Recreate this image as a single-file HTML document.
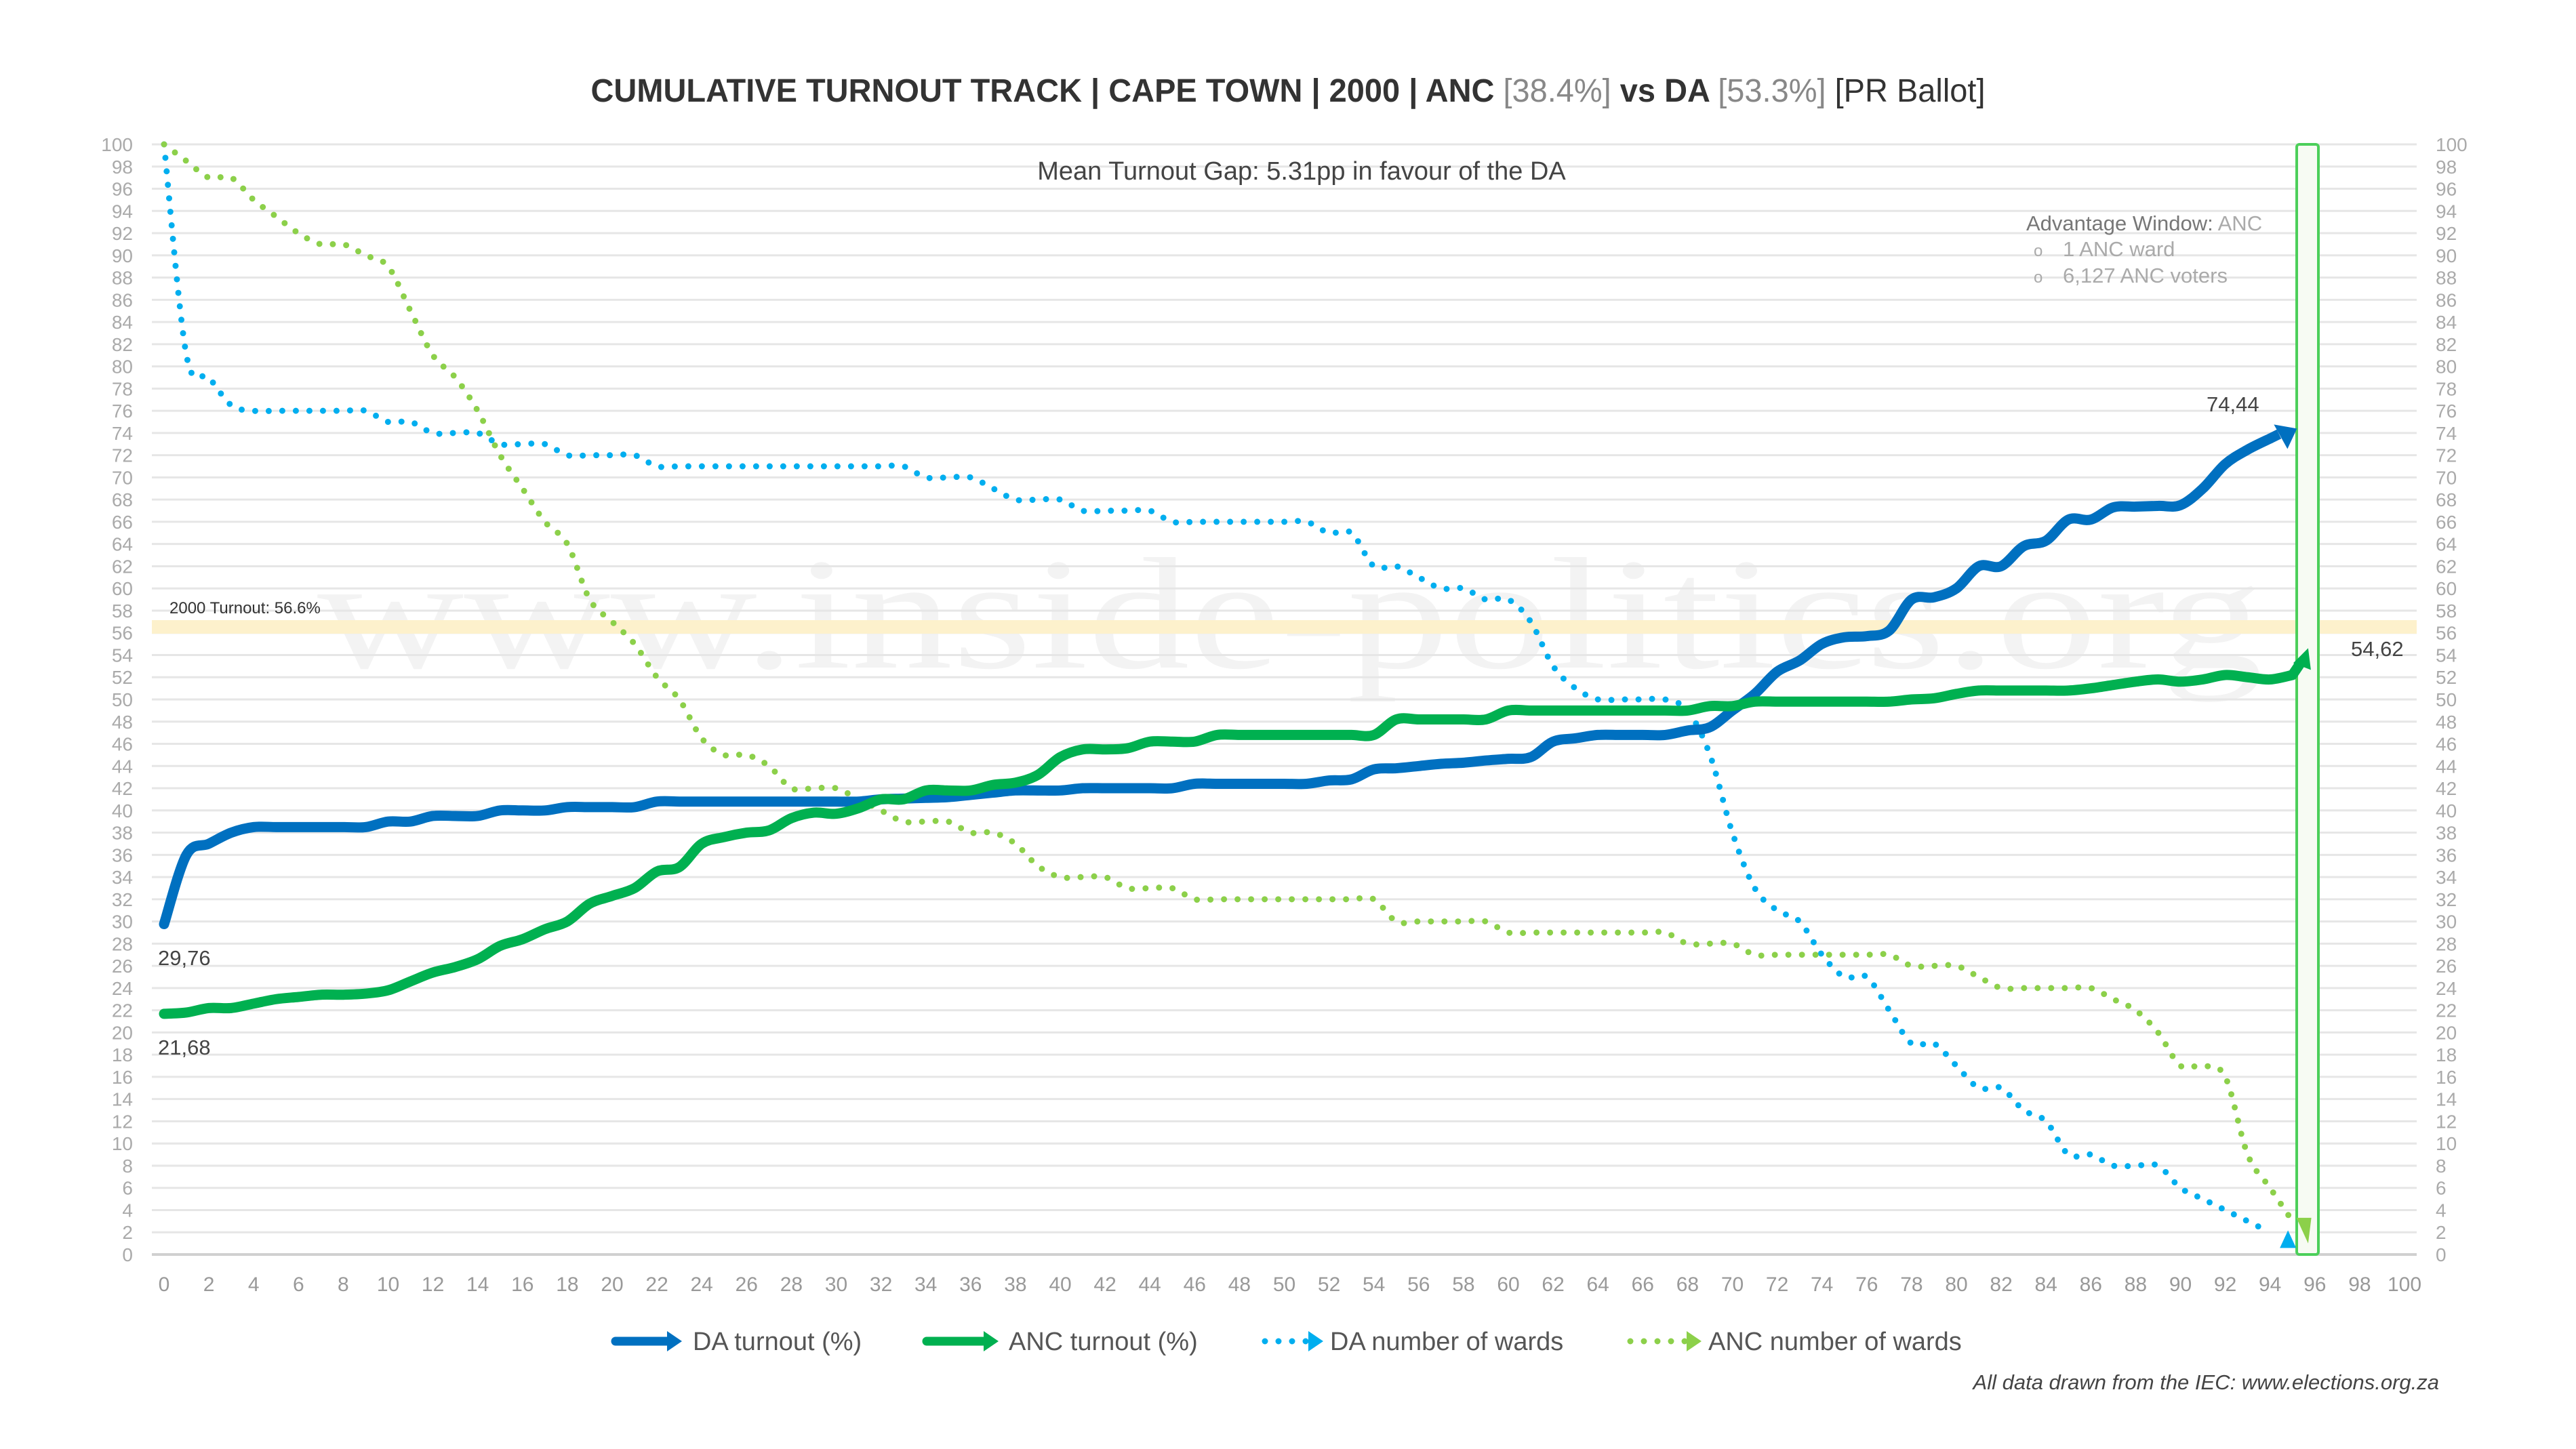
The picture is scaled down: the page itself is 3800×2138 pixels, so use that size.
<!DOCTYPE html>
<html><head><meta charset="utf-8"><style>
html,body{margin:0;padding:0;background:#fff}
svg{display:block}
text{font-family:"Liberation Sans",sans-serif}
</style></head><body>
<svg id="s" width="3800" height="2138" viewBox="0 0 3800 2138" xmlns="http://www.w3.org/2000/svg">
<text x="1903" y="985" font-size="235" fill="#f3f3f3" text-anchor="middle" textLength="2870" lengthAdjust="spacingAndGlyphs" style="font-family:'Liberation Serif',serif">www.inside-politics.org</text>
<g id="grid"></g>
<rect x="224" y="915" width="3341" height="20" fill="#fdf1cc"/>
<text x="250" y="905" font-size="24" fill="#333">2000 Turnout: 56.6%</text>
<rect x="3388" y="213" width="32" height="1638" rx="4" fill="#f7fbf3" stroke="#4ccf5a" stroke-width="4"/>
<g id="series"></g>
<text x="1900" y="150" font-size="48" font-weight="bold" fill="#333" text-anchor="middle" textLength="2057" lengthAdjust="spacingAndGlyphs">CUMULATIVE TURNOUT TRACK | CAPE TOWN | 2000 | ANC <tspan fill="#888" font-weight="normal">[38.4%]</tspan> vs DA <tspan fill="#888" font-weight="normal">[53.3%]</tspan> <tspan font-weight="normal">[PR Ballot]</tspan></text>
<text x="1920" y="265" font-size="38" fill="#444" text-anchor="middle">Mean Turnout Gap: 5.31pp in favour of the DA</text>
<text x="2989" y="340" font-size="31" fill="#777">Advantage Window: <tspan fill="#aaa">ANC</tspan></text>
<text x="3000" y="378" font-size="24" fill="#aaa">o</text><text x="3043" y="378" font-size="31" fill="#aaa">1 ANC ward</text>
<text x="3000" y="417" font-size="24" fill="#aaa">o</text><text x="3043" y="417" font-size="31" fill="#aaa">6,127 ANC voters</text>
<g font-size="31" fill="#444">
<text x="233" y="1424">29,76</text><text x="233" y="1556">21,68</text>
<text x="3255" y="607">74,44</text><text x="3468" y="968">54,62</text>
</g>
<g id="legend" font-size="38" fill="#555">
<text x="1022" y="1992">DA turnout (%)</text>
<text x="1488" y="1992">ANC turnout (%)</text>
<text x="1962" y="1992">DA number of wards</text>
<text x="2520" y="1992">ANC number of wards</text>
</g>
<text x="3598" y="2050" font-size="31" font-style="italic" fill="#444" text-anchor="end">All data drawn from the IEC: www.elections.org.za</text>
</svg>
<script>
var NS="http://www.w3.org/2000/svg";
function X(v){return 242+v*33.05}
function Y(v){return 1851-v*16.38}
function el(p,t,a,txt){var e=document.createElementNS(NS,t);for(var k in a)e.setAttribute(k,a[k]);if(txt!=null)e.textContent=txt;p.appendChild(e);return e}
var g=document.getElementById('grid');
for(var v=0;v<=100;v+=2){
 el(g,'line',{x1:224,x2:3565,y1:Y(v),y2:Y(v),stroke:v==0?'#d0d0d0':'#e6e6e6','stroke-width':v==0?4:3});
 el(g,'text',{x:196,y:Y(v)+10,'font-size':28,fill:'#aaa','text-anchor':'end'},v);
 el(g,'text',{x:3593,y:Y(v)+10,'font-size':28,fill:'#aaa'},v);
 el(g,'text',{x:X(v),y:1905,'font-size':30,fill:'#999','text-anchor':'middle'},v);
}
function expand(pts){var m={},ks=[];for(var i=0;i<pts.length;i+=2){m[pts[i]]=pts[i+1];ks.push(pts[i])}
 var out=[];for(var j=0;j<ks.length-1;j++){var a=ks[j],b=ks[j+1];for(var x=a;x<b;x++)out.push([x,m[a]+(m[b]-m[a])*(x-a)/(b-a)])}
 out.push([ks[ks.length-1],m[ks[ks.length-1]]]);return out}
function smooth(p){var d='M'+X(p[0][0])+','+Y(p[0][1]);
 for(var i=0;i<p.length-1;i++){var p0=p[Math.max(i-1,0)],p1=p[i],p2=p[i+1],p3=p[Math.min(i+2,p.length-1)];
 var c1x=X(p1[0])+(X(p2[0])-X(p0[0]))/6,c1y=Y(p1[1])+(Y(p2[1])-Y(p0[1]))/6,c2x=X(p2[0])-(X(p3[0])-X(p1[0]))/6,c2y=Y(p2[1])-(Y(p3[1])-Y(p1[1]))/6;
 d+=' C'+c1x+','+c1y+' '+c2x+','+c2y+' '+X(p2[0])+','+Y(p2[1]);}return d}
var da=[0,29.76,1,36,2,37,3,38,4,38.5,9,38.5,10,39,11,39,12,39.5,14,39.5,15,40,17,40,18,40.3,21,40.3,22,40.8,31,40.8,32,41,35,41.2,36,41.4,38,41.8,40,41.8,41,42,45,42,46,42.4,51,42.4,52,42.7,53,42.8,54,43.7,55,43.8,57,44.2,58,44.3,59,44.5,61,44.8,62,46.2,63,46.5,64,46.8,67,46.8,68,47.2,69,47.5,70,49,71,50.5,72,52.5,73,53.5,74,55,75,55.6,76,55.7,77,56.2,78,59,79,59.2,80,60,81,62,82,62,83,63.8,84,64.3,85,66.2,86,66.2,87,67.3,90,67.5,91,69,92,71.2,93,72.5,94,73.5];
var anc=[0,21.68,1,21.8,2,22.2,3,22.2,4,22.6,5,23,6,23.2,7,23.4,8,23.4,9,23.5,10,23.8,11,24.6,12,25.4,13,25.9,14,26.6,15,27.8,16,28.4,17,29.3,18,30,19,31.6,20,32.3,21,33,22,34.5,23,34.9,24,37,25,37.6,26,38,27,38.2,28,39.3,29,39.8,30,39.7,31,40.2,32,41,33,41,34,41.8,36,41.8,37,42.3,38,42.5,39,43.2,40,44.8,41,45.5,42,45.5,43,45.6,44,46.2,46,46.2,47,46.8,54,46.8,55,48.2,59,48.2,60,49,68,49,69,49.4,70,49.4,71,49.8,77,49.8,78,50,79,50.1,80,50.5,81,50.8,85,50.8,86,51,87,51.3,88,51.6,89,51.8,90,51.6,91,51.8,92,52.2,93,52,94,51.8,95,52.2];
var daw=[0,100,1,81,2,79,3,76.5,4,76,9,76,10,75,11,75,12,74,14,74,15,73,17,73,18,72,21,72,22,71,33,71,34,70,36,70,37,69,38,68,40,68,41,67,44,67,45,66,51,66,52,65,53,65,54,62,55,62,56,61,57,60,58,60,59,59,60,59,61,57,62,53,63,51,64,50,67,50,68,49,69,45,70,38,71,33,72,31,73,30,74,27,75,25,76,25,77,22,78,19,79,19,80,17,81,15,82,15,83,13,84,12,85,9,86,9,87,8,89,8,90,6,91,5,92,4,93,3,94,2];
var ancw=[0,100,1,98.5,2,97,3,97,4,95,5,93.5,6,92,7,91,8,91,9,90,10,89,11,85,12,81,13,79,14,76,15,72,16,69,17,66,18,64,19,59,20,57,21,55,22,52,23,50,24,46.5,25,45,26,45,27,44,28,42,30,42,31,41,32,40,33,39,35,39,36,38,37,38,38,37,39,35,40,34,42,34,43,33,45,33,46,32,54,32,55,30,59,30,60,29,67,29,68,28,70,28,71,27,77,27,78,26,80,26,81,25,82,24,86,24,87,23,88,22,89,20,90,17,91,17,92,16,93,9,94,6,95,3];
var s=document.getElementById('series');
function draw(data,col,w,dash){var p=expand(data);var a={d:smooth(p),fill:'none',stroke:col,'stroke-width':w,'stroke-linecap':'round','stroke-linejoin':'round'};if(dash)a['stroke-dasharray']=dash;el(s,'path',a);}
draw(daw,'#00aeef',9,'0 20');
draw(ancw,'#8cd04a',9,'0 20');
el(s,'polygon',{points:(X(94.8)-12)+','+(Y(1.2)+10)+' '+(X(94.8)+12)+','+(Y(1.2)+10)+' '+X(94.8)+','+(Y(1.2)-16),fill:'#00aeef'});
el(s,'polygon',{points:(X(95.6)-14)+','+(Y(3)-5)+' '+(X(95.6)+8)+','+(Y(3)-5)+' '+X(95.7)+','+(Y(1)),fill:'#8cd04a'});
draw(da,'#0070c0',15);
draw(anc,'#00b050',15);
el(s,'line',{x1:X(94),y1:Y(73.5),x2:X(94.4),y2:Y(73.9),stroke:'#0070c0','stroke-width':15});
el(s,'polygon',{points:(X(95.2))+','+Y(74.4)+' '+(X(95.2)-34)+','+(Y(74.4)-6)+' '+(X(95.2)-14)+','+(Y(74.4)+30),fill:'#0070c0'});
el(s,'line',{x1:X(95),y1:Y(52.2),x2:X(95.4),y2:Y(53.4),stroke:'#00b050','stroke-width':15});
el(s,'polygon',{points:X(95.7)+','+Y(54.62)+' '+(X(95.7)-22)+','+(Y(54.62)+22)+' '+(X(95.7)+4)+','+(Y(54.62)+32),fill:'#00b050'});
var L=document.getElementById('legend');
function leg(x1,x2,col,w,dash){var a={x1:x1,x2:x2-14,y1:1979,y2:1979,stroke:col,'stroke-width':w,'stroke-linecap':'round'};if(dash)a['stroke-dasharray']=dash;el(L,'line',a);
 el(L,'polygon',{points:(x2-22)+',1964 '+x2+',1979 '+(x2-22)+',1994',fill:col});}
leg(908,1006,'#0070c0',13);
leg(1367,1473,'#00b050',13);
leg(1866,1952,'#00aeef',9,'0 20');
leg(2405,2510,'#8cd04a',9,'0 20');
</script>
</body></html>
